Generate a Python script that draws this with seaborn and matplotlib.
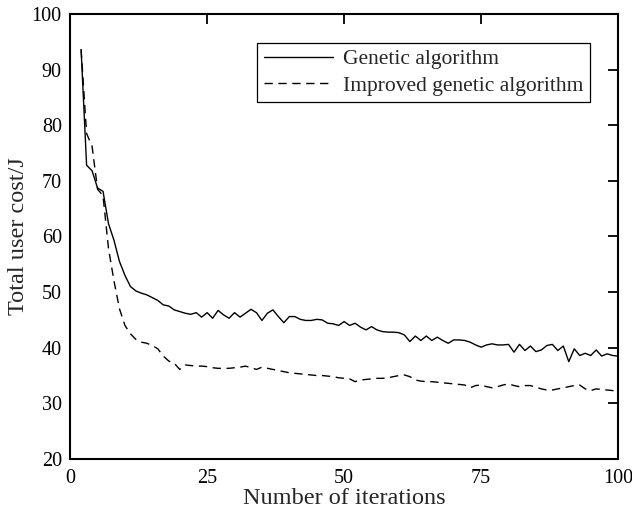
import seaborn as sns
import matplotlib.pyplot as plt
import pandas as pd

# iterations (both curves start at iteration 2 in the picture)
iterations = list(range(2, 101))

ga_cost = [
    93.6, 72.8, 71.8, 68.7, 68.1, 62.3, 59.3, 55.5, 53.0, 51.0,
    50.2, 49.8, 49.5, 49.0, 48.5, 47.7, 47.5, 46.8, 46.5, 46.2,
    46.0, 46.3, 45.5, 46.3, 45.3, 46.7, 45.9, 45.3, 46.3, 45.5,
    46.2, 46.9, 46.3, 44.9, 46.2, 46.8, 45.6, 44.5, 45.6, 45.6,
    45.1, 44.9, 44.9, 45.1, 45.0, 44.4, 44.3, 44.0, 44.7, 44.0,
    44.4, 43.7, 43.2, 43.8, 43.2, 42.9, 42.8, 42.8, 42.7, 42.3,
    41.1, 42.1, 41.3, 42.1, 41.3, 41.9, 41.3, 40.8, 41.4, 41.4,
    41.3, 41.0, 40.5, 40.1, 40.5, 40.7, 40.5, 40.5, 40.6, 39.2,
    40.6, 39.5, 40.3, 39.3, 39.6, 40.4, 40.6, 39.5, 40.3, 37.5,
    39.8, 38.6, 39.0, 38.6, 39.6, 38.5, 38.9, 38.6, 38.5,
]

iga_cost = [
    93.6, 78.5, 76.2, 68.5, 67.3, 57.8, 52.0, 47.0, 44.0, 42.5,
    41.5, 41.0, 40.8, 40.4, 39.8, 38.5, 37.6, 37.2, 36.1, 36.9,
    36.8, 36.7, 36.7, 36.6, 36.4, 36.3, 36.3, 36.3, 36.4, 36.5,
    36.7, 36.4, 36.1, 36.5, 36.3, 36.1, 35.9, 35.7, 35.5, 35.4,
    35.3, 35.2, 35.1, 35.0, 35.0, 34.9, 34.8, 34.6, 34.5, 34.4,
    33.9, 34.2, 34.3, 34.4, 34.5, 34.5, 34.6, 34.8, 35.0, 35.1,
    34.8, 34.2, 34.0, 33.9, 33.9, 33.8, 33.7, 33.6, 33.5, 33.4,
    33.3, 32.8, 33.2, 33.3, 33.0, 32.8, 33.0, 33.3, 33.5, 33.2,
    33.0, 33.2, 33.2, 32.9, 32.6, 32.4, 32.4, 32.6, 32.8, 33.0,
    33.2, 33.3, 32.6, 32.3, 32.6, 32.5, 32.4, 32.3, 32.2,
]

labels = ['Genetic algorithm', 'Improved genetic algorithm']

sns.set_theme(style="white")
plt.rcParams['font.family'] = ['Liberation Serif', 'DejaVu Serif']

fig = plt.figure(figsize=(6.32, 5.14), dpi=100)
ax = fig.add_axes([0.111, 0.107, 0.867, 0.866])

sns.lineplot(x=iterations, y=ga_cost, ax=ax, color='black', lw=1.0,
             label=labels[0])
sns.lineplot(x=iterations, y=iga_cost, ax=ax, color='black', lw=1.0,
             linestyle=(0, (6, 4)), label=labels[1])

ax.set_xlim(0, 100)
ax.set_ylim(20, 100)
ax.set_xticks([0, 25, 50, 75, 100])
ax.set_yticks(range(20, 101, 10))
ax.tick_params(direction='in', length=7, width=1.3, colors='black',
               labelsize=14.5, top=True, right=True)
ax.tick_params(axis='x', pad=7)
ax.tick_params(axis='y', pad=6)
for s in ax.spines.values():
    s.set_color('black')
    s.set_linewidth(1.5)

ax.set_xlabel('Number of iterations', fontsize=17.5, labelpad=0)
ax.set_ylabel('Total user cost/J', fontsize=17.5)
ax.yaxis.set_label_coords(-0.076, 0.5)

leg = ax.legend(loc='upper right', bbox_to_anchor=(0.949, 0.935),
                fontsize=15.5, frameon=True, fancybox=False,
                edgecolor='black', framealpha=1, handlelength=3.2,
                handletextpad=0.5, borderpad=0.3, labelspacing=0.3,
                borderaxespad=0)
leg.get_frame().set_linewidth(0.9)

plt.savefig('out.png', dpi=100)
plt.close()
